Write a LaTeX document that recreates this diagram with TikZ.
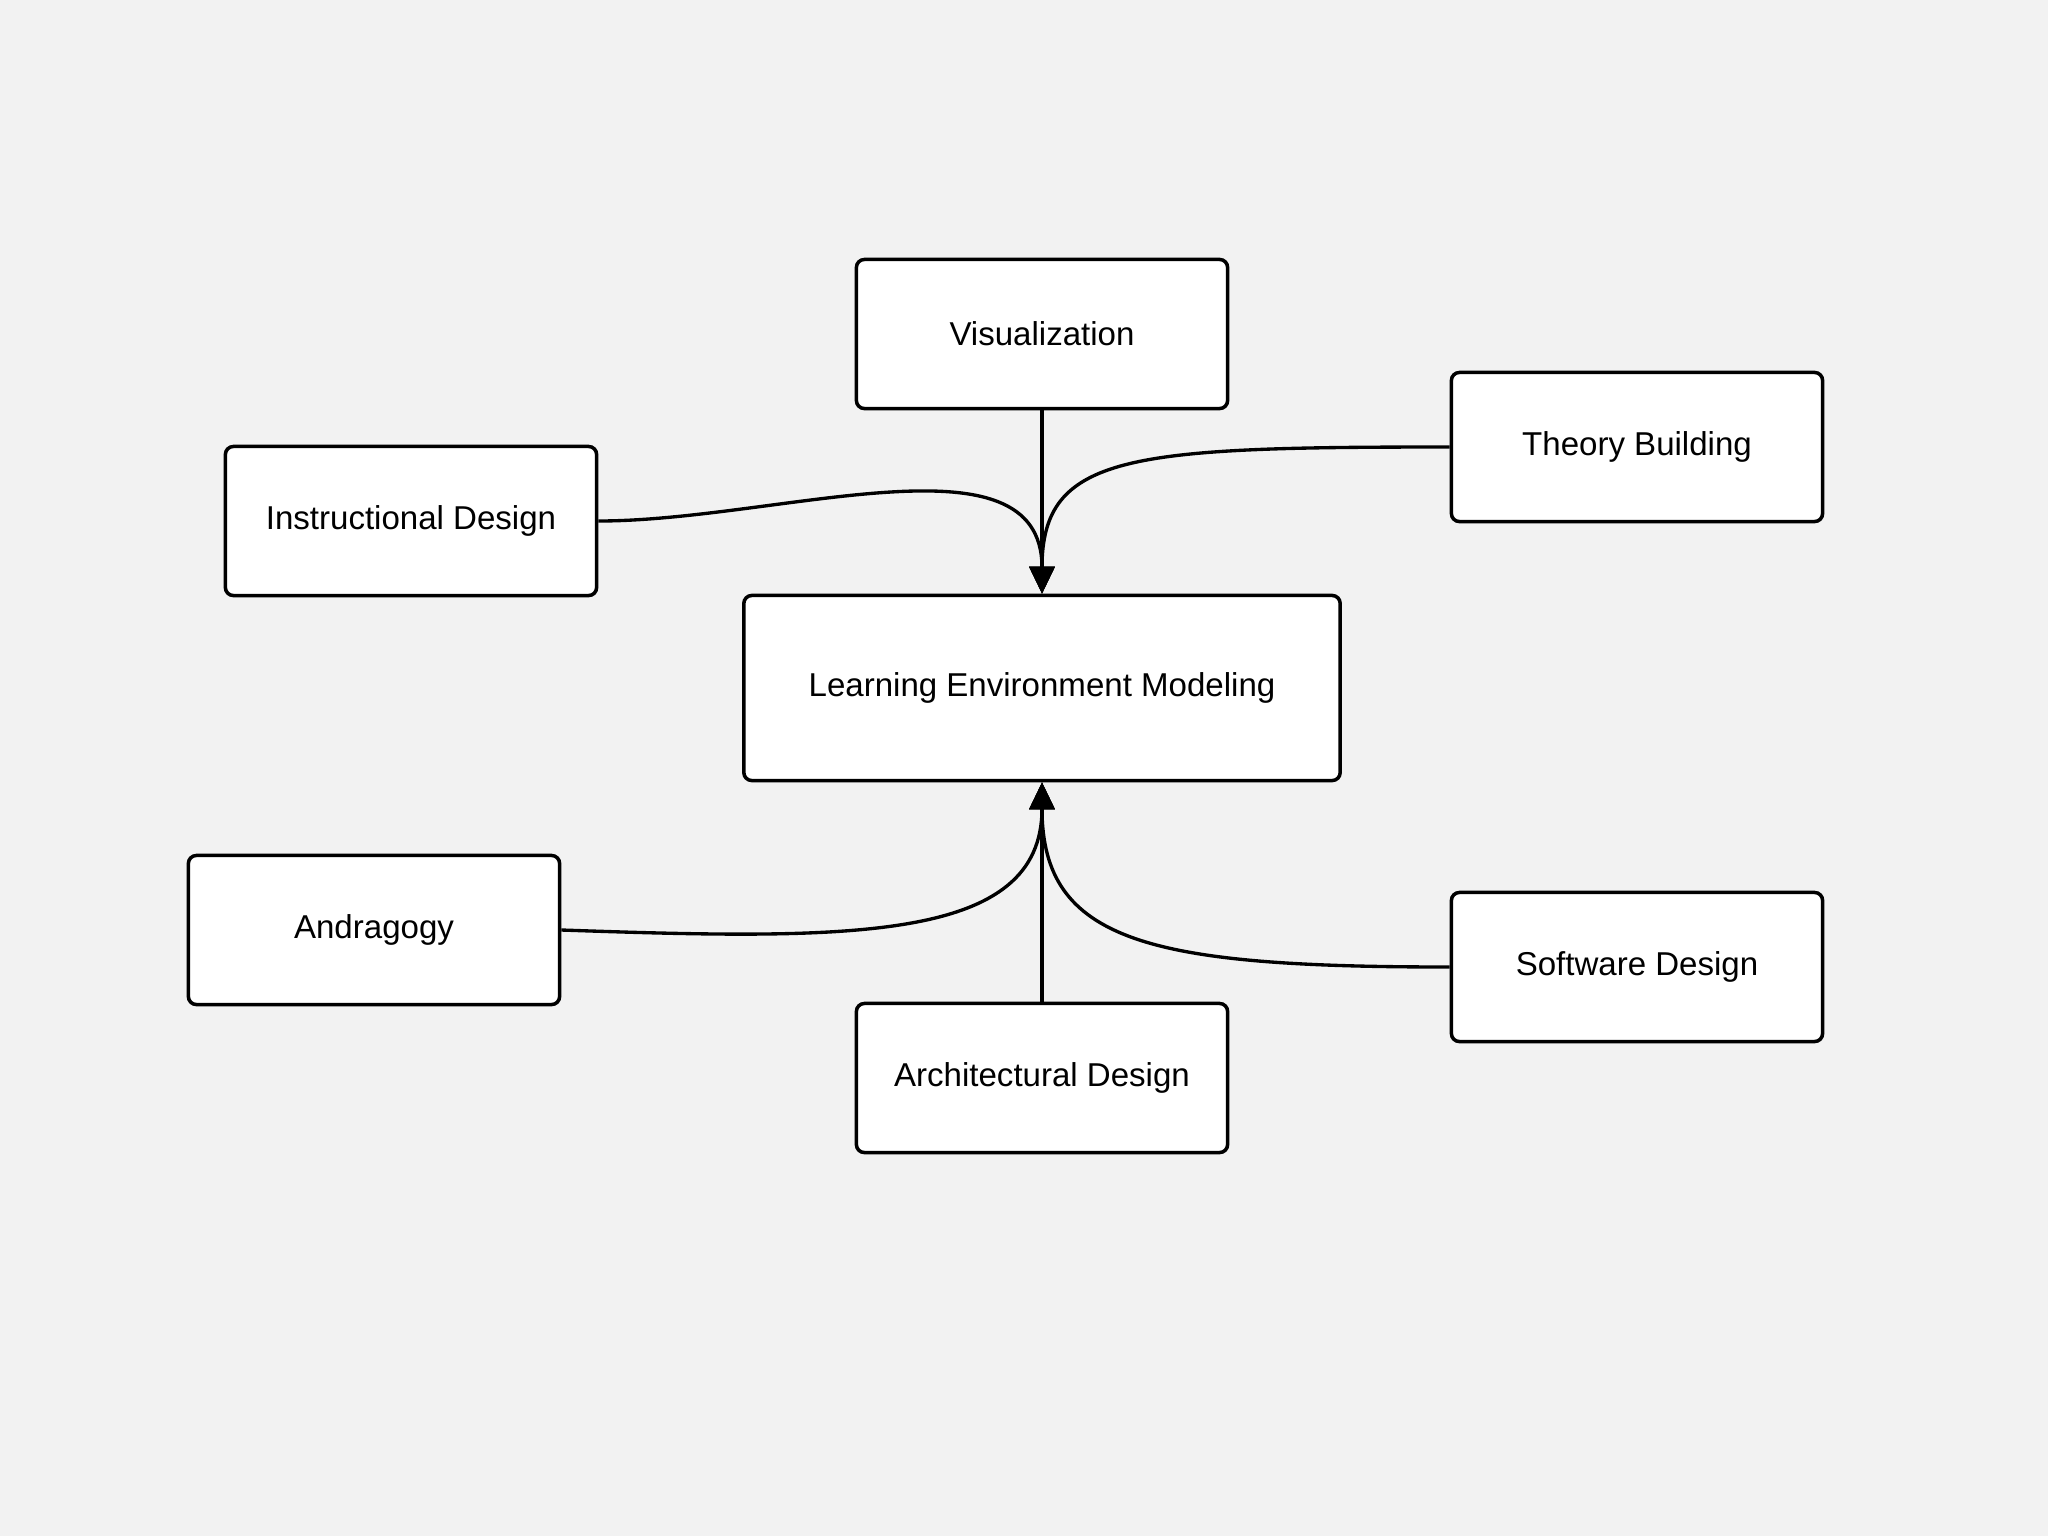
\documentclass[tikz,border=0pt]{standalone}
\usepackage{fontspec}
\setmainfont{Liberation Sans}
\usetikzlibrary{arrows.meta}
\definecolor{bgc}{HTML}{F2F2F2}
\tikzset{
  boxnode/.style={draw=black, fill=white, line width=1pt, rounded corners=0.08cm,
    minimum width=3.71cm, minimum height=1.49cm, inner sep=0pt,
    font=\fontsize{9.4pt}{11pt}\selectfont},
  conn/.style={draw=black, line width=0.95pt},
  arr/.style={conn, -{Triangle[length=2.7mm,width=2.5mm]}}
}
\begin{document}
\begin{tikzpicture}[x=0.01cm, y=-0.01cm]
\fill[bgc] (0,0) rectangle (2048,1536);
\useasboundingbox (0,0) rectangle (2048,1536);

\node[boxnode] (vis) at (1042,334) {Visualization};
\node[boxnode] (tb) at (1637,447) {Theory Building};
\node[boxnode] (id) at (411,521) {Instructional Design};
\node[boxnode, minimum width=5.96cm, minimum height=1.85cm] (lem) at (1042,688) {Learning Environment Modeling};
\node[boxnode] (and) at (374,930) {Andragogy};
\node[boxnode] (ad) at (1042,1078) {Architectural Design};
\node[boxnode] (sd) at (1637,967) {Software Design};

\draw[arr] (vis.south) -- (lem.north);
\draw[arr] (id.east) .. controls +(180,0) and +(0,-165) .. (lem.north);
\draw[arr] (tb.west) .. controls +(-320,0) and +(0,-140) .. (lem.north);
\draw[arr] (ad.north) -- (lem.south);
\draw[arr] (and.east) .. controls +(290,10) and +(0,160) .. (lem.south);
\draw[arr] (sd.west) .. controls +(-300,0) and +(0,160) .. (lem.south);
\end{tikzpicture}
\end{document}
